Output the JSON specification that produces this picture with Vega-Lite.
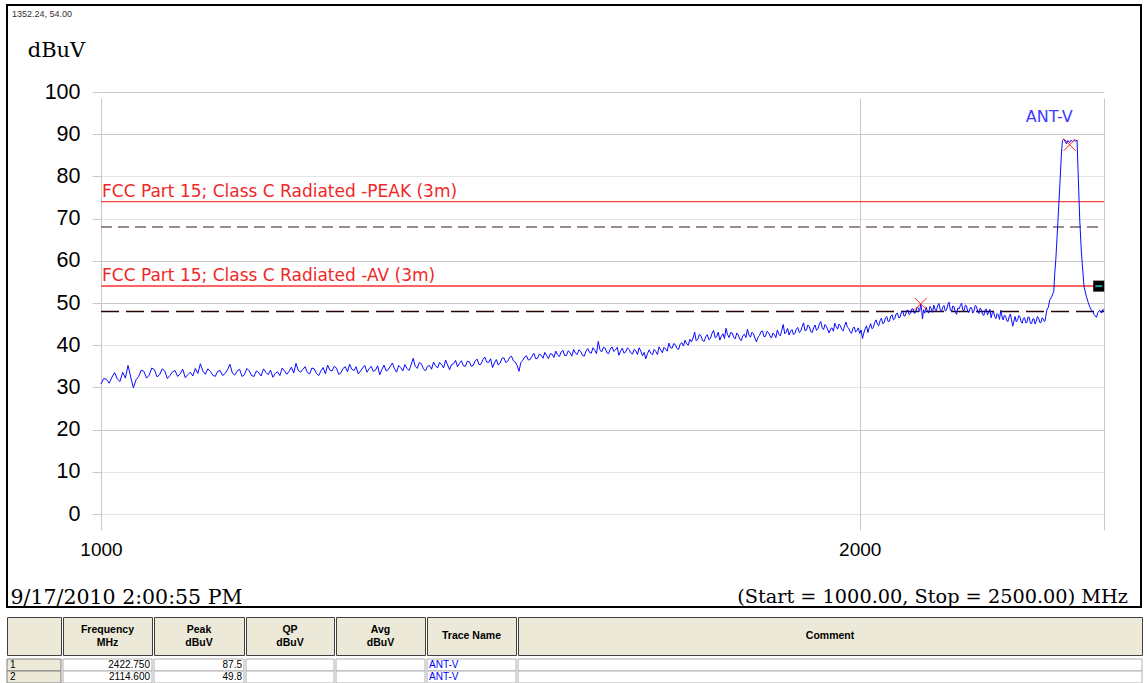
{
  "$schema": "https://vega.github.io/schema/vega-lite/v6.json",
  "padding": {"left": 6, "top": 4, "right": 0, "bottom": 0},
  "background": "white",
  "config": {
    "font": "Liberation Sans",
    "view": {"stroke": null},
    "concat": {"spacing": 0}
  },
  "datasets": {
    "trace": [
      {"freq":1000,"dBuV":30.8},{"freq":1002.5,"dBuV":32.1},{"freq":1005,"dBuV":31.9},{"freq":1007.5,"dBuV":31.0},{"freq":1010,"dBuV":32.4},{"freq":1012.5,"dBuV":33.5},{"freq":1015,"dBuV":32.0},{"freq":1017.5,"dBuV":31.4},{"freq":1020,"dBuV":33.6},{"freq":1022.5,"dBuV":32.2},{"freq":1025,"dBuV":35.2},{"freq":1027.5,"dBuV":32.5},{"freq":1030,"dBuV":29.9},{"freq":1032.5,"dBuV":31.8},{"freq":1035,"dBuV":32.6},{"freq":1037.5,"dBuV":34.1},{"freq":1040,"dBuV":33.8},{"freq":1042.5,"dBuV":32.2},{"freq":1045,"dBuV":32.9},{"freq":1047.5,"dBuV":34.6},
      {"freq":1050,"dBuV":34.2},{"freq":1052.5,"dBuV":32.5},{"freq":1055,"dBuV":33.0},{"freq":1057.5,"dBuV":34.4},{"freq":1060,"dBuV":33.9},{"freq":1062.5,"dBuV":32.1},{"freq":1065,"dBuV":32.8},{"freq":1067.5,"dBuV":33.7},{"freq":1070,"dBuV":34.0},{"freq":1072.5,"dBuV":32.6},{"freq":1075,"dBuV":33.2},{"freq":1077.5,"dBuV":34.3},{"freq":1080,"dBuV":32.3},{"freq":1082.5,"dBuV":33.0},{"freq":1085,"dBuV":33.6},{"freq":1087.5,"dBuV":32.7},{"freq":1090,"dBuV":34.5},{"freq":1092.5,"dBuV":33.3},{"freq":1095,"dBuV":35.6},{"freq":1097.5,"dBuV":33.9},
      {"freq":1100,"dBuV":33.1},{"freq":1102.5,"dBuV":34.4},{"freq":1105,"dBuV":33.8},{"freq":1107.5,"dBuV":32.9},{"freq":1110,"dBuV":32.6},{"freq":1112.5,"dBuV":33.8},{"freq":1115,"dBuV":34.0},{"freq":1117.5,"dBuV":32.8},{"freq":1120,"dBuV":33.3},{"freq":1122.5,"dBuV":34.2},{"freq":1125,"dBuV":35.5},{"freq":1127.5,"dBuV":33.4},{"freq":1130,"dBuV":32.9},{"freq":1132.5,"dBuV":33.9},{"freq":1135,"dBuV":34.3},{"freq":1137.5,"dBuV":32.6},{"freq":1140,"dBuV":33.0},{"freq":1142.5,"dBuV":34.5},{"freq":1145,"dBuV":33.9},{"freq":1147.5,"dBuV":32.8},
      {"freq":1150,"dBuV":32.6},{"freq":1152.5,"dBuV":33.9},{"freq":1155,"dBuV":33.5},{"freq":1157.5,"dBuV":32.7},{"freq":1160,"dBuV":34.4},{"freq":1162.5,"dBuV":33.6},{"freq":1165,"dBuV":33.0},{"freq":1167.5,"dBuV":34.1},{"freq":1170,"dBuV":32.4},{"freq":1172.5,"dBuV":33.3},{"freq":1175,"dBuV":33.7},{"freq":1177.5,"dBuV":32.8},{"freq":1180,"dBuV":34.6},{"freq":1182.5,"dBuV":33.9},{"freq":1185,"dBuV":33.1},{"freq":1187.5,"dBuV":33.8},{"freq":1190,"dBuV":34.8},{"freq":1192.5,"dBuV":33.4},{"freq":1195,"dBuV":35.7},{"freq":1197.5,"dBuV":34.0},
      {"freq":1200,"dBuV":33.6},{"freq":1202.5,"dBuV":34.3},{"freq":1205,"dBuV":34.9},{"freq":1207.5,"dBuV":33.5},{"freq":1210,"dBuV":33.2},{"freq":1212.5,"dBuV":34.6},{"freq":1215,"dBuV":34.4},{"freq":1217.5,"dBuV":33.3},{"freq":1220,"dBuV":32.8},{"freq":1222.5,"dBuV":33.9},{"freq":1225,"dBuV":34.7},{"freq":1227.5,"dBuV":33.2},{"freq":1230,"dBuV":35.3},{"freq":1232.5,"dBuV":34.1},{"freq":1235,"dBuV":33.9},{"freq":1237.5,"dBuV":35.0},{"freq":1240,"dBuV":34.6},{"freq":1242.5,"dBuV":33.1},{"freq":1245,"dBuV":33.4},{"freq":1247.5,"dBuV":34.5},
      {"freq":1250,"dBuV":34.9},{"freq":1252.5,"dBuV":33.7},{"freq":1255,"dBuV":35.5},{"freq":1257.5,"dBuV":34.3},{"freq":1260,"dBuV":34.0},{"freq":1262.5,"dBuV":34.9},{"freq":1265,"dBuV":33.2},{"freq":1267.5,"dBuV":33.9},{"freq":1270,"dBuV":34.6},{"freq":1272.5,"dBuV":35.2},{"freq":1275,"dBuV":33.6},{"freq":1277.5,"dBuV":34.4},{"freq":1280,"dBuV":35.0},{"freq":1282.5,"dBuV":33.8},{"freq":1285,"dBuV":34.1},{"freq":1287.5,"dBuV":35.1},{"freq":1290,"dBuV":33.0},{"freq":1292.5,"dBuV":34.2},{"freq":1295,"dBuV":35.3},{"freq":1297.5,"dBuV":33.9},
      {"freq":1300,"dBuV":34.2},{"freq":1302.5,"dBuV":35.0},{"freq":1305,"dBuV":35.8},{"freq":1307.5,"dBuV":34.4},{"freq":1310,"dBuV":33.6},{"freq":1312.5,"dBuV":35.2},{"freq":1315,"dBuV":34.7},{"freq":1317.5,"dBuV":33.9},{"freq":1320,"dBuV":35.4},{"freq":1322.5,"dBuV":34.5},{"freq":1325,"dBuV":34.0},{"freq":1327.5,"dBuV":35.3},{"freq":1330,"dBuV":36.9},{"freq":1332.5,"dBuV":35.0},{"freq":1335,"dBuV":34.5},{"freq":1337.5,"dBuV":35.9},{"freq":1340,"dBuV":35.6},{"freq":1342.5,"dBuV":34.4},{"freq":1345,"dBuV":33.9},{"freq":1347.5,"dBuV":35.0},
      {"freq":1350,"dBuV":35.2},{"freq":1352.5,"dBuV":34.3},{"freq":1355,"dBuV":36.0},{"freq":1357.5,"dBuV":35.1},{"freq":1360,"dBuV":34.6},{"freq":1362.5,"dBuV":35.9},{"freq":1365,"dBuV":35.4},{"freq":1367.5,"dBuV":34.6},{"freq":1370,"dBuV":36.5},{"freq":1372.5,"dBuV":35.3},{"freq":1375,"dBuV":34.2},{"freq":1377.5,"dBuV":35.4},{"freq":1380,"dBuV":35.6},{"freq":1382.5,"dBuV":36.4},{"freq":1385,"dBuV":34.9},{"freq":1387.5,"dBuV":35.7},{"freq":1390,"dBuV":36.3},{"freq":1392.5,"dBuV":35.1},{"freq":1395,"dBuV":35.0},{"freq":1397.5,"dBuV":36.2},
      {"freq":1400,"dBuV":36.1},{"freq":1402.5,"dBuV":35.0},{"freq":1405,"dBuV":35.2},{"freq":1407.5,"dBuV":36.3},{"freq":1410,"dBuV":36.7},{"freq":1412.5,"dBuV":35.4},{"freq":1415,"dBuV":35.5},{"freq":1417.5,"dBuV":36.6},{"freq":1420,"dBuV":37.2},{"freq":1422.5,"dBuV":36.0},{"freq":1425,"dBuV":35.9},{"freq":1427.5,"dBuV":36.8},{"freq":1430,"dBuV":34.7},{"freq":1432.5,"dBuV":35.8},{"freq":1435,"dBuV":36.6},{"freq":1437.5,"dBuV":35.3},{"freq":1440,"dBuV":35.8},{"freq":1442.5,"dBuV":36.9},{"freq":1445,"dBuV":37.0},{"freq":1447.5,"dBuV":35.9},
      {"freq":1450,"dBuV":36.2},{"freq":1452.5,"dBuV":37.1},{"freq":1455,"dBuV":37.4},{"freq":1457.5,"dBuV":36.3},{"freq":1460,"dBuV":36.0},{"freq":1462.5,"dBuV":35.2},{"freq":1465,"dBuV":33.8},{"freq":1467.5,"dBuV":35.9},{"freq":1470,"dBuV":36.4},{"freq":1472.5,"dBuV":37.2},{"freq":1475,"dBuV":37.5},{"freq":1477.5,"dBuV":36.5},{"freq":1480,"dBuV":36.6},{"freq":1482.5,"dBuV":37.4},{"freq":1485,"dBuV":38.1},{"freq":1487.5,"dBuV":36.8},{"freq":1490,"dBuV":36.9},{"freq":1492.5,"dBuV":37.9},{"freq":1495,"dBuV":37.6},{"freq":1497.5,"dBuV":36.9},
      {"freq":1500,"dBuV":38.3},{"freq":1502.5,"dBuV":37.5},{"freq":1505,"dBuV":36.8},{"freq":1507.5,"dBuV":38.0},{"freq":1510,"dBuV":37.9},{"freq":1512.5,"dBuV":37.1},{"freq":1515,"dBuV":38.6},{"freq":1517.5,"dBuV":37.7},{"freq":1520,"dBuV":37.3},{"freq":1522.5,"dBuV":38.4},{"freq":1525,"dBuV":38.8},{"freq":1527.5,"dBuV":37.5},{"freq":1530,"dBuV":37.6},{"freq":1532.5,"dBuV":38.7},{"freq":1535,"dBuV":38.2},{"freq":1537.5,"dBuV":37.4},{"freq":1540,"dBuV":39.0},{"freq":1542.5,"dBuV":38.1},{"freq":1545,"dBuV":37.8},{"freq":1547.5,"dBuV":38.9},
      {"freq":1550,"dBuV":38.5},{"freq":1552.5,"dBuV":37.6},{"freq":1555,"dBuV":37.4},{"freq":1557.5,"dBuV":38.6},{"freq":1560,"dBuV":39.2},{"freq":1562.5,"dBuV":38.3},{"freq":1565,"dBuV":38.1},{"freq":1567.5,"dBuV":39.4},{"freq":1570,"dBuV":38.8},{"freq":1572.5,"dBuV":38.0},{"freq":1575,"dBuV":40.9},{"freq":1577.5,"dBuV":38.9},{"freq":1580,"dBuV":38.4},{"freq":1582.5,"dBuV":39.5},{"freq":1585,"dBuV":39.3},{"freq":1587.5,"dBuV":38.2},{"freq":1590,"dBuV":38.0},{"freq":1592.5,"dBuV":39.1},{"freq":1595,"dBuV":39.6},{"freq":1597.5,"dBuV":38.5},
      {"freq":1600,"dBuV":38.9},{"freq":1602.5,"dBuV":39.5},{"freq":1605,"dBuV":37.6},{"freq":1607.5,"dBuV":38.6},{"freq":1610,"dBuV":39.3},{"freq":1612.5,"dBuV":38.1},{"freq":1615,"dBuV":38.4},{"freq":1617.5,"dBuV":39.4},{"freq":1620,"dBuV":39.0},{"freq":1622.5,"dBuV":38.2},{"freq":1625,"dBuV":37.9},{"freq":1627.5,"dBuV":39.0},{"freq":1630,"dBuV":38.7},{"freq":1632.5,"dBuV":37.8},{"freq":1635,"dBuV":39.4},{"freq":1637.5,"dBuV":38.6},{"freq":1640,"dBuV":37.5},{"freq":1642.5,"dBuV":38.3},{"freq":1645,"dBuV":36.8},{"freq":1647.5,"dBuV":38.0},
      {"freq":1650,"dBuV":38.9},{"freq":1652.5,"dBuV":38.1},{"freq":1655,"dBuV":37.7},{"freq":1657.5,"dBuV":39.0},{"freq":1660,"dBuV":38.5},{"freq":1662.5,"dBuV":37.8},{"freq":1665,"dBuV":39.6},{"freq":1667.5,"dBuV":38.9},{"freq":1670,"dBuV":38.2},{"freq":1672.5,"dBuV":39.5},{"freq":1675,"dBuV":39.1},{"freq":1677.5,"dBuV":38.6},{"freq":1680,"dBuV":40.5},{"freq":1682.5,"dBuV":39.4},{"freq":1685,"dBuV":39.3},{"freq":1687.5,"dBuV":40.4},{"freq":1690,"dBuV":40.1},{"freq":1692.5,"dBuV":39.2},{"freq":1695,"dBuV":39.0},{"freq":1697.5,"dBuV":40.3},
      {"freq":1700,"dBuV":40.6},{"freq":1702.5,"dBuV":39.8},{"freq":1705,"dBuV":41.2},{"freq":1707.5,"dBuV":40.3},{"freq":1710,"dBuV":40.0},{"freq":1712.5,"dBuV":41.4},{"freq":1715,"dBuV":40.8},{"freq":1717.5,"dBuV":41.7},{"freq":1720,"dBuV":43.1},{"freq":1722.5,"dBuV":41.0},{"freq":1725,"dBuV":41.4},{"freq":1727.5,"dBuV":42.6},{"freq":1730,"dBuV":42.2},{"freq":1732.5,"dBuV":41.1},{"freq":1735,"dBuV":40.9},{"freq":1737.5,"dBuV":42.0},{"freq":1740,"dBuV":42.5},{"freq":1742.5,"dBuV":41.3},{"freq":1745,"dBuV":41.6},{"freq":1747.5,"dBuV":42.8},
      {"freq":1750,"dBuV":43.5},{"freq":1752.5,"dBuV":41.8},{"freq":1755,"dBuV":42.0},{"freq":1757.5,"dBuV":43.1},{"freq":1760,"dBuV":41.2},{"freq":1762.5,"dBuV":42.1},{"freq":1765,"dBuV":42.7},{"freq":1767.5,"dBuV":41.6},{"freq":1770,"dBuV":44.0},{"freq":1772.5,"dBuV":42.5},{"freq":1775,"dBuV":41.8},{"freq":1777.5,"dBuV":43.0},{"freq":1780,"dBuV":42.9},{"freq":1782.5,"dBuV":41.9},{"freq":1785,"dBuV":41.5},{"freq":1787.5,"dBuV":42.9},{"freq":1790,"dBuV":42.4},{"freq":1792.5,"dBuV":41.4},{"freq":1795,"dBuV":41.1},{"freq":1797.5,"dBuV":42.3},
      {"freq":1800,"dBuV":42.6},{"freq":1802.5,"dBuV":41.8},{"freq":1805,"dBuV":43.8},{"freq":1807.5,"dBuV":42.4},{"freq":1810,"dBuV":41.9},{"freq":1812.5,"dBuV":43.1},{"freq":1815,"dBuV":42.7},{"freq":1817.5,"dBuV":41.6},{"freq":1820,"dBuV":40.8},{"freq":1822.5,"dBuV":41.9},{"freq":1825,"dBuV":42.3},{"freq":1827.5,"dBuV":43.2},{"freq":1830,"dBuV":43.4},{"freq":1832.5,"dBuV":42.0},{"freq":1835,"dBuV":42.1},{"freq":1837.5,"dBuV":43.3},{"freq":1840,"dBuV":43.0},{"freq":1842.5,"dBuV":42.2},{"freq":1845,"dBuV":41.7},{"freq":1847.5,"dBuV":42.9},
      {"freq":1850,"dBuV":42.5},{"freq":1852.5,"dBuV":41.8},{"freq":1855,"dBuV":43.6},{"freq":1857.5,"dBuV":42.6},{"freq":1860,"dBuV":42.2},{"freq":1862.5,"dBuV":43.5},{"freq":1865,"dBuV":44.9},{"freq":1867.5,"dBuV":42.7},{"freq":1870,"dBuV":43.1},{"freq":1872.5,"dBuV":44.0},{"freq":1875,"dBuV":42.4},{"freq":1877.5,"dBuV":43.3},{"freq":1880,"dBuV":43.7},{"freq":1882.5,"dBuV":42.5},{"freq":1885,"dBuV":42.8},{"freq":1887.5,"dBuV":43.9},{"freq":1890,"dBuV":44.2},{"freq":1892.5,"dBuV":43.0},{"freq":1895,"dBuV":43.3},{"freq":1897.5,"dBuV":44.4},
      {"freq":1900,"dBuV":45.3},{"freq":1902.5,"dBuV":43.4},{"freq":1905,"dBuV":43.6},{"freq":1907.5,"dBuV":44.8},{"freq":1910,"dBuV":44.4},{"freq":1912.5,"dBuV":43.2},{"freq":1915,"dBuV":43.0},{"freq":1917.5,"dBuV":44.1},{"freq":1920,"dBuV":44.8},{"freq":1922.5,"dBuV":43.5},{"freq":1925,"dBuV":43.9},{"freq":1927.5,"dBuV":45.0},{"freq":1930,"dBuV":45.6},{"freq":1932.5,"dBuV":44.2},{"freq":1935,"dBuV":43.7},{"freq":1937.5,"dBuV":44.9},{"freq":1940,"dBuV":44.5},{"freq":1942.5,"dBuV":43.6},{"freq":1945,"dBuV":42.9},{"freq":1947.5,"dBuV":43.9},
      {"freq":1950,"dBuV":44.1},{"freq":1952.5,"dBuV":43.3},{"freq":1955,"dBuV":45.2},{"freq":1957.5,"dBuV":44.4},{"freq":1960,"dBuV":43.8},{"freq":1962.5,"dBuV":45.0},{"freq":1965,"dBuV":44.6},{"freq":1967.5,"dBuV":43.7},{"freq":1970,"dBuV":43.4},{"freq":1972.5,"dBuV":44.6},{"freq":1975,"dBuV":45.5},{"freq":1977.5,"dBuV":44.3},{"freq":1980,"dBuV":44.0},{"freq":1982.5,"dBuV":43.2},{"freq":1985,"dBuV":42.8},{"freq":1987.5,"dBuV":44.0},{"freq":1990,"dBuV":44.3},{"freq":1992.5,"dBuV":43.1},{"freq":1995,"dBuV":43.5},{"freq":1997.5,"dBuV":44.1},
      {"freq":2000,"dBuV":42.8},{"freq":2002.5,"dBuV":43.6},{"freq":2005,"dBuV":41.6},{"freq":2007.5,"dBuV":42.9},{"freq":2010,"dBuV":43.9},{"freq":2012.5,"dBuV":44.6},{"freq":2015,"dBuV":43.0},{"freq":2017.5,"dBuV":44.2},{"freq":2020,"dBuV":45.1},{"freq":2022.5,"dBuV":43.9},{"freq":2025,"dBuV":44.2},{"freq":2027.5,"dBuV":45.4},{"freq":2030,"dBuV":46.0},{"freq":2032.5,"dBuV":45.0},{"freq":2035,"dBuV":44.6},{"freq":2037.5,"dBuV":45.8},{"freq":2040,"dBuV":46.4},{"freq":2042.5,"dBuV":45.1},{"freq":2045,"dBuV":45.3},{"freq":2047.5,"dBuV":46.5},
      {"freq":2050,"dBuV":46.8},{"freq":2052.5,"dBuV":45.6},{"freq":2055,"dBuV":45.7},{"freq":2057.5,"dBuV":46.9},{"freq":2060,"dBuV":47.2},{"freq":2062.5,"dBuV":46.0},{"freq":2065,"dBuV":46.3},{"freq":2067.5,"dBuV":47.4},{"freq":2070,"dBuV":47.6},{"freq":2072.5,"dBuV":46.5},{"freq":2075,"dBuV":46.6},{"freq":2077.5,"dBuV":47.8},{"freq":2080,"dBuV":48.1},{"freq":2082.5,"dBuV":46.9},{"freq":2085,"dBuV":47.0},{"freq":2087.5,"dBuV":48.2},{"freq":2090,"dBuV":48.3},{"freq":2092.5,"dBuV":47.2},{"freq":2095,"dBuV":47.5},{"freq":2097.5,"dBuV":48.6},
      {"freq":2100,"dBuV":48.6},{"freq":2102.5,"dBuV":47.5},{"freq":2105,"dBuV":47.9},{"freq":2107.5,"dBuV":49.0},{"freq":2110,"dBuV":48.8},{"freq":2112.5,"dBuV":48.0},{"freq":2114.6,"dBuV":49.8},{"freq":2116.5,"dBuV":48.2},{"freq":2118,"dBuV":46.2},{"freq":2120,"dBuV":48.4},{"freq":2122.5,"dBuV":47.6},{"freq":2125,"dBuV":49.0},{"freq":2127.5,"dBuV":48.1},{"freq":2130,"dBuV":47.6},{"freq":2132.5,"dBuV":49.2},{"freq":2135,"dBuV":48.7},{"freq":2137.5,"dBuV":47.8},{"freq":2140,"dBuV":49.5},{"freq":2142.5,"dBuV":48.4},
      {"freq":2145,"dBuV":48.2},{"freq":2147.5,"dBuV":49.3},{"freq":2150,"dBuV":49.9},{"freq":2152.5,"dBuV":48.5},{"freq":2155,"dBuV":47.9},{"freq":2157.5,"dBuV":49.0},{"freq":2160,"dBuV":49.4},{"freq":2162.5,"dBuV":48.1},{"freq":2165,"dBuV":48.3},{"freq":2167.5,"dBuV":49.6},{"freq":2170,"dBuV":50.2},{"freq":2172.5,"dBuV":48.4},{"freq":2175,"dBuV":48.0},{"freq":2177.5,"dBuV":49.3},{"freq":2180,"dBuV":49.1},{"freq":2182.5,"dBuV":47.8},{"freq":2185,"dBuV":47.3},{"freq":2187.5,"dBuV":48.8},{"freq":2190,"dBuV":48.6},{"freq":2192.5,"dBuV":49.4},
      {"freq":2195,"dBuV":50.0},{"freq":2197.5,"dBuV":48.3},{"freq":2200,"dBuV":48.2},{"freq":2202.5,"dBuV":49.5},{"freq":2205,"dBuV":49.3},{"freq":2207.5,"dBuV":47.9},{"freq":2210,"dBuV":47.8},{"freq":2212.5,"dBuV":48.9},{"freq":2215,"dBuV":48.9},{"freq":2217.5,"dBuV":47.6},{"freq":2220,"dBuV":48.1},{"freq":2222.5,"dBuV":49.4},{"freq":2225,"dBuV":49.2},{"freq":2227.5,"dBuV":48.0},{"freq":2230,"dBuV":47.5},{"freq":2232.5,"dBuV":48.8},{"freq":2235,"dBuV":48.4},{"freq":2237.5,"dBuV":47.3},{"freq":2240,"dBuV":47.0},{"freq":2242.5,"dBuV":48.3},
      {"freq":2245,"dBuV":48.6},{"freq":2247.5,"dBuV":47.2},{"freq":2250,"dBuV":47.7},{"freq":2252.5,"dBuV":48.5},{"freq":2255,"dBuV":46.5},{"freq":2257.5,"dBuV":47.6},{"freq":2260,"dBuV":47.9},{"freq":2262.5,"dBuV":46.8},{"freq":2265,"dBuV":46.3},{"freq":2267.5,"dBuV":47.5},{"freq":2270,"dBuV":47.2},{"freq":2272.5,"dBuV":46.1},{"freq":2275,"dBuV":48.3},{"freq":2277.5,"dBuV":46.9},{"freq":2280,"dBuV":46.0},{"freq":2282.5,"dBuV":47.1},{"freq":2285,"dBuV":46.9},{"freq":2287.5,"dBuV":45.8},{"freq":2290,"dBuV":45.6},{"freq":2292.5,"dBuV":46.7},
      {"freq":2295,"dBuV":47.4},{"freq":2297.5,"dBuV":46.0},{"freq":2300,"dBuV":44.5},{"freq":2302.5,"dBuV":45.7},{"freq":2305,"dBuV":46.8},{"freq":2307.5,"dBuV":45.5},{"freq":2310,"dBuV":45.9},{"freq":2312.5,"dBuV":47.0},{"freq":2315,"dBuV":46.8},{"freq":2317.5,"dBuV":45.6},{"freq":2320,"dBuV":45.2},{"freq":2322.5,"dBuV":46.4},{"freq":2325,"dBuV":46.5},{"freq":2327.5,"dBuV":45.3},{"freq":2330,"dBuV":45.4},{"freq":2332.5,"dBuV":46.7},{"freq":2335,"dBuV":46.6},{"freq":2337.5,"dBuV":45.2},{"freq":2340,"dBuV":45.1},{"freq":2342.5,"dBuV":46.2},
      {"freq":2345,"dBuV":46.3},{"freq":2347.5,"dBuV":45.0},{"freq":2350,"dBuV":45.7},{"freq":2352.5,"dBuV":46.8},{"freq":2355,"dBuV":46.4},{"freq":2357.5,"dBuV":45.4},{"freq":2360,"dBuV":45.3},{"freq":2362.5,"dBuV":46.5},{"freq":2365,"dBuV":46.2},{"freq":2367.5,"dBuV":45.6},{"freq":2369,"dBuV":45.8},{"freq":2372.7,"dBuV":48.3},{"freq":2376,"dBuV":49.0},{"freq":2379,"dBuV":50.7},{"freq":2383.5,"dBuV":51.5},
      {"freq":2387.9,"dBuV":52.8},{"freq":2390,"dBuV":57.0},{"freq":2392.3,"dBuV":60.2},{"freq":2395.1,"dBuV":65.7},{"freq":2398,"dBuV":71.5},{"freq":2401,"dBuV":77.6},{"freq":2404.7,"dBuV":85.5},{"freq":2406.9,"dBuV":88.5},{"freq":2410,"dBuV":88.8},{"freq":2413,"dBuV":88.2},
      {"freq":2415.7,"dBuV":87.7},{"freq":2419,"dBuV":88.5},{"freq":2422.75,"dBuV":88.0},{"freq":2426,"dBuV":88.6},{"freq":2429.7,"dBuV":88.2},{"freq":2433,"dBuV":88.7},{"freq":2436,"dBuV":88.3},{"freq":2439.2,"dBuV":88.6},{"freq":2441.4,"dBuV":81.5},{"freq":2445.2,"dBuV":69.7},
      {"freq":2449,"dBuV":61.8},{"freq":2454.8,"dBuV":53.9},{"freq":2460.2,"dBuV":51.5},{"freq":2464,"dBuV":50.2},{"freq":2467.6,"dBuV":49.1},{"freq":2471,"dBuV":48.4},{"freq":2475,"dBuV":47.9},{"freq":2478,"dBuV":47.2},{"freq":2482.8,"dBuV":46.6},{"freq":2486,"dBuV":47.7},
      {"freq":2490.3,"dBuV":48.3},{"freq":2494,"dBuV":47.6},{"freq":2497.8,"dBuV":48.5},{"freq":2500,"dBuV":48.2}
    ],
    "limits": [
      {"kind":"PEAK","f0":1000,"f1":2500,"dBuV":74,"label":"FCC Part 15; Class C Radiated -PEAK (3m)"},
      {"kind":"AV","f0":1000,"f1":2500,"dBuV":54,"label":"FCC Part 15; Class C Radiated -AV (3m)"}
    ],
    "margins": [
      {"kind":"PEAK-6","f0":1000,"f1":2500,"dBuV":68},
      {"kind":"AV-6","f0":1000,"f1":2500,"dBuV":48}
    ],
    "markers": [
      {"row":"1","freq":2422.75,"dBuV":87.5,"trace":"ANT-V"},
      {"row":"2","freq":2114.6,"dBuV":49.8,"trace":"ANT-V"}
    ],
    "traceLabel": [{"freq":2378,"dBuV":94,"name":"ANT-V"}],
    "handle": [{"freq":2488,"dBuV":54}],
    "range": [{"text":"(Start = 1000.00, Stop = 2500.00) MHz"}]
  },
  "spacing": 7,
  "vconcat": [
    {
      "width": 1134,
      "height": 602,
      "view": {"stroke": "#000000", "strokeWidth": 2, "fill": "white"},
      "title": {"text": "1352.24, 54.00", "anchor": "start", "frame": "group", "fontSize": 9, "font": "Liberation Sans", "fontWeight": "normal", "color": "#3a2a3a", "offset": -14, "dx": 5},
      "layer": [
        {
          "data": {"name": "margins"},
          "transform": [{"filter": "datum.kind == 'PEAK-6'"}],
          "mark": {"type": "rule", "strokeWidth": 1.5, "color": "#7a6666", "strokeDash": [11, 6]},
          "encoding": {
            "x": {"field": "f0", "type": "quantitative", "scale": {"type": "log", "domain": [1000, 2500], "range": [94, 1097], "nice": false}},
            "x2": {"field": "f1"},
            "y": {"field": "dBuV", "type": "quantitative", "scale": {"domain": [0, 100], "range": [509, 87], "nice": false, "zero": false}}
          }
        },
        {
          "data": {"name": "margins"},
          "transform": [{"filter": "datum.kind == 'AV-6'"}],
          "mark": {"type": "rule", "strokeWidth": 1.5, "color": "#2a0505", "strokeDash": [18, 7]},
          "encoding": {
            "x": {"field": "f0", "type": "quantitative"},
            "x2": {"field": "f1"},
            "y": {"field": "dBuV", "type": "quantitative"}
          }
        },
        {
          "data": {"name": "limits"},
          "transform": [{"filter": "datum.kind == 'PEAK'"}],
          "mark": {"type": "rule", "strokeWidth": 1, "color": "#ff1010"},
          "encoding": {
            "x": {"field": "f0", "type": "quantitative"},
            "x2": {"field": "f1"},
            "y": {"field": "dBuV", "type": "quantitative"}
          }
        },
        {
          "data": {"name": "limits"},
          "transform": [{"filter": "datum.kind == 'AV'"}],
          "mark": {"type": "rule", "strokeWidth": 2, "color": "#ff6464"},
          "encoding": {
            "x": {"field": "f0", "type": "quantitative"},
            "x2": {"field": "f1"},
            "y": {"field": "dBuV", "type": "quantitative"}
          }
        },
        {
          "data": {"name": "limits"},
          "mark": {"type": "text", "align": "left", "baseline": "alphabetic", "dx": 1, "dy": -5, "fontSize": 17, "font": "DejaVu Sans", "color": "#f02828"},
          "encoding": {
            "x": {"field": "f0", "type": "quantitative"},
            "y": {"field": "dBuV", "type": "quantitative"},
            "text": {"field": "label"}
          }
        },
        {
          "data": {"name": "trace"},
          "mark": {"type": "line", "color": "#0a0aff", "strokeWidth": 1},
          "encoding": {
            "x": {"field": "freq", "type": "quantitative", "scale": {"type": "log", "domain": [1000, 2500], "range": [94, 1097], "nice": false},
              "axis": {"orient": "bottom", "offset": -93, "values": [1000, 2000, 2500], "format": "d", "labelExpr": "datum.value == 2500 ? '' : datum.label", "tickSize": 16, "tickColor": "#c8c8c8", "labelPadding": 10, "labelFontSize": 19, "labelFont": "Liberation Sans", "labelColor": "#000000", "labelFlush": false, "labelOverlap": false, "domain": false, "grid": true, "gridColor": "#c8c8c8", "title": "9/17/2010 2:00:55 PM", "titleFont": "DejaVu Serif", "titleFontSize": 20.5, "titleFontWeight": "normal", "titleColor": "#000000", "titleX": 3, "titleY": 89, "titleAlign": "left", "titleBaseline": "alphabetic"}},
            "y": {"field": "dBuV", "type": "quantitative", "scale": {"domain": [0, 100], "range": [509, 87], "nice": false, "zero": false},
              "axis": {"orient": "left", "offset": -94, "values": [0, 10, 20, 30, 40, 50, 60, 70, 80, 90, 100], "tickSize": 9, "tickColor": "#c8c8c8", "labelPadding": 12, "labelFontSize": 21.5, "labelFont": "Liberation Sans", "labelColor": "#000000", "domain": false, "grid": true, "gridColor": "#c8c8c8",
                "gridDash": {"condition": {"test": "indexof([0, 10, 30, 40, 70, 80], datum.value) >= 0", "value": [1, 1]}, "value": []},
                "title": "dBuV", "titleFont": "DejaVu Serif", "titleFontSize": 21, "titleFontWeight": "normal", "titleColor": "#000000", "titleAngle": 0, "titleX": -45, "titleY": 45, "titleAlign": "center", "titleBaseline": "middle"}}
          }
        },
        {
          "data": {"name": "markers"},
          "mark": {"type": "point", "shape": "M-1,-1L1,1M-1,1L1,-1", "filled": false, "color": "#ff2020", "strokeWidth": 1, "size": 144, "opacity": 1},
          "encoding": {
            "x": {"field": "freq", "type": "quantitative"},
            "y": {"field": "dBuV", "type": "quantitative"}
          }
        },
        {
          "data": {"name": "traceLabel"},
          "mark": {"type": "text", "align": "center", "baseline": "middle", "fontSize": 16, "font": "DejaVu Sans", "color": "#3c3cff"},
          "encoding": {
            "x": {"field": "freq", "type": "quantitative"},
            "y": {"field": "dBuV", "type": "quantitative"},
            "text": {"field": "name"}
          }
        },
        {
          "data": {"name": "handle"},
          "mark": {"type": "point", "shape": "square", "filled": true, "color": "#000000", "size": 121, "opacity": 1},
          "encoding": {
            "x": {"field": "freq", "type": "quantitative"},
            "y": {"field": "dBuV", "type": "quantitative"}
          }
        },
        {
          "data": {"name": "handle"},
          "mark": {"type": "point", "shape": "M-1,0L1,0", "filled": false, "color": "#20a0a0", "strokeWidth": 2, "size": 49, "opacity": 1},
          "encoding": {
            "x": {"field": "freq", "type": "quantitative"},
            "y": {"field": "dBuV", "type": "quantitative"}
          }
        },
        {
          "data": {"name": "range"},
          "mark": {"type": "text", "align": "right", "baseline": "alphabetic", "dx": -13, "dy": -4, "fontSize": 19.3, "font": "DejaVu Serif", "color": "#000000"},
          "encoding": {
            "x": {"value": "width"},
            "y": {"value": "height"},
            "text": {"field": "text"}
          }
        }
      ]
    },
    {
      "spacing": 2,
      "vconcat": [
        {
          "spacing": 0,
          "hconcat": [
            {"width": 54, "height": 38, "view": {"fill": "#ece9d8", "stroke": "#404040", "strokeWidth": 1}, "data": {"values": [{"h": ""}]}, "mark": {"type": "text", "fontWeight": "bold", "fontSize": 10, "lineBreak": "\n", "color": "#000000"}, "encoding": {"text": {"field": "h"}}},
            {"width": 89, "height": 38, "view": {"fill": "#ece9d8", "stroke": "#404040", "strokeWidth": 1}, "data": {"values": [{"h": "Frequency\nMHz"}]}, "mark": {"type": "text", "fontWeight": "bold", "fontSize": 10.5, "lineBreak": "\n", "color": "#000000", "baseline": "middle", "dy": -6}, "encoding": {"text": {"field": "h"}}},
            {"width": 90, "height": 38, "view": {"fill": "#ece9d8", "stroke": "#404040", "strokeWidth": 1}, "data": {"values": [{"h": "Peak\ndBuV"}]}, "mark": {"type": "text", "fontWeight": "bold", "fontSize": 10.5, "lineBreak": "\n", "color": "#000000", "baseline": "middle", "dy": -6}, "encoding": {"text": {"field": "h"}}},
            {"width": 88, "height": 38, "view": {"fill": "#ece9d8", "stroke": "#404040", "strokeWidth": 1}, "data": {"values": [{"h": "QP\ndBuV"}]}, "mark": {"type": "text", "fontWeight": "bold", "fontSize": 10.5, "lineBreak": "\n", "color": "#000000", "baseline": "middle", "dy": -6}, "encoding": {"text": {"field": "h"}}},
            {"width": 89, "height": 38, "view": {"fill": "#ece9d8", "stroke": "#404040", "strokeWidth": 1}, "data": {"values": [{"h": "Avg\ndBuV"}]}, "mark": {"type": "text", "fontWeight": "bold", "fontSize": 10.5, "lineBreak": "\n", "color": "#000000", "baseline": "middle", "dy": -6}, "encoding": {"text": {"field": "h"}}},
            {"width": 89, "height": 38, "view": {"fill": "#ece9d8", "stroke": "#404040", "strokeWidth": 1}, "data": {"values": [{"h": "Trace Name"}]}, "mark": {"type": "text", "fontWeight": "bold", "fontSize": 10.5, "lineBreak": "\n", "color": "#000000", "baseline": "middle"}, "encoding": {"text": {"field": "h"}}},
            {"width": 624, "height": 38, "view": {"fill": "#ece9d8", "stroke": "#404040", "strokeWidth": 1}, "data": {"values": [{"h": "Comment"}]}, "mark": {"type": "text", "fontWeight": "bold", "fontSize": 10.5, "lineBreak": "\n", "color": "#000000", "baseline": "middle"}, "encoding": {"text": {"field": "h"}}}
          ]
        },
        {
          "spacing": 0,
          "hconcat": [
            {"width": 54, "height": 24, "data": {"name": "markers"},
              "layer": [
                {"mark": {"type": "rect", "fill": "#ece9d8", "stroke": "#808080", "strokeWidth": 1}, "encoding": {"y": {"field": "row", "type": "ordinal", "axis": null, "scale": {"paddingInner": 0, "paddingOuter": 0}}}},
                {"mark": {"type": "text", "align": "left", "dx": 3, "fontSize": 10, "color": "#000000"}, "encoding": {"x": {"value": 0}, "y": {"field": "row", "type": "ordinal", "axis": null}, "text": {"field": "row"}}}
              ]},
            {"width": 89, "height": 24, "data": {"name": "markers"},
              "layer": [
                {"mark": {"type": "rect", "fill": "white", "stroke": "#b0b0b0", "strokeWidth": 1}, "encoding": {"y": {"field": "row", "type": "ordinal", "axis": null, "scale": {"paddingInner": 0, "paddingOuter": 0}}}},
                {"mark": {"type": "text", "align": "right", "dx": -2, "fontSize": 10, "color": "#000000"}, "encoding": {"x": {"value": "width"}, "y": {"field": "row", "type": "ordinal", "axis": null}, "text": {"field": "freq", "type": "quantitative", "format": ".3f"}}}
              ]},
            {"width": 90, "height": 24, "data": {"name": "markers"},
              "layer": [
                {"mark": {"type": "rect", "fill": "white", "stroke": "#b0b0b0", "strokeWidth": 1}, "encoding": {"y": {"field": "row", "type": "ordinal", "axis": null, "scale": {"paddingInner": 0, "paddingOuter": 0}}}},
                {"mark": {"type": "text", "align": "right", "dx": -2, "fontSize": 10, "color": "#000000"}, "encoding": {"x": {"value": "width"}, "y": {"field": "row", "type": "ordinal", "axis": null}, "text": {"field": "dBuV", "type": "quantitative", "format": ".1f"}}}
              ]},
            {"width": 88, "height": 24, "data": {"name": "markers"},
              "mark": {"type": "rect", "fill": "white", "stroke": "#b0b0b0", "strokeWidth": 1}, "encoding": {"y": {"field": "row", "type": "ordinal", "axis": null, "scale": {"paddingInner": 0, "paddingOuter": 0}}}},
            {"width": 89, "height": 24, "data": {"name": "markers"},
              "mark": {"type": "rect", "fill": "white", "stroke": "#b0b0b0", "strokeWidth": 1}, "encoding": {"y": {"field": "row", "type": "ordinal", "axis": null, "scale": {"paddingInner": 0, "paddingOuter": 0}}}},
            {"width": 89, "height": 24, "data": {"name": "markers"},
              "layer": [
                {"mark": {"type": "rect", "fill": "white", "stroke": "#b0b0b0", "strokeWidth": 1}, "encoding": {"y": {"field": "row", "type": "ordinal", "axis": null, "scale": {"paddingInner": 0, "paddingOuter": 0}}}},
                {"mark": {"type": "text", "align": "left", "dx": 2, "fontSize": 10, "color": "#0000ff"}, "encoding": {"x": {"value": 0}, "y": {"field": "row", "type": "ordinal", "axis": null}, "text": {"field": "trace"}}}
              ]},
            {"width": 624, "height": 24, "data": {"name": "markers"},
              "mark": {"type": "rect", "fill": "white", "stroke": "#b0b0b0", "strokeWidth": 1}, "encoding": {"y": {"field": "row", "type": "ordinal", "axis": null, "scale": {"paddingInner": 0, "paddingOuter": 0}}}}
          ]
        }
      ]
    }
  ]
}
